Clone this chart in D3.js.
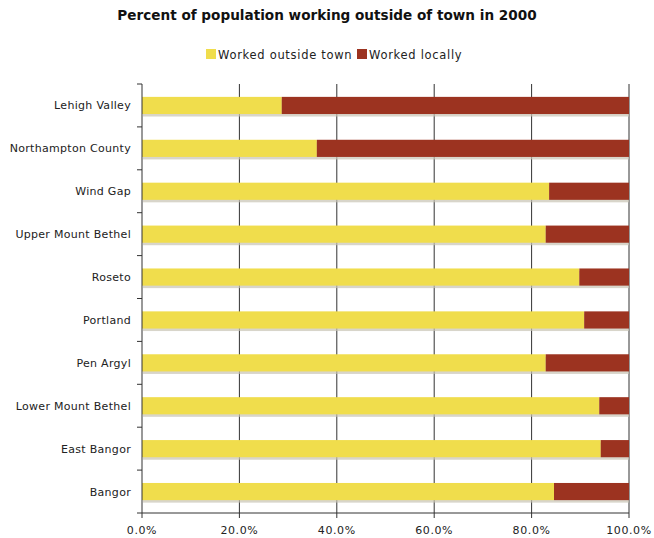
<!DOCTYPE html>
<html><head><meta charset="utf-8">
<script src="https://cdn.jsdelivr.net/npm/d3@7"></script>
<style>body{margin:0;background:#fff;} text{font-family:"DejaVu Sans",Verdana,sans-serif;}</style>
</head><body>
<svg id="c" width="654" height="538"></svg>
<script>
const categories = ["Lehigh Valley","Northampton County","Wind Gap","Upper Mount Bethel","Roseto","Portland","Pen Argyl","Lower Mount Bethel","East Bangor","Bangor"];
const workedOutside = [28.7, 35.9, 83.6, 82.9, 89.8, 90.8, 82.9, 93.9, 94.2, 84.6];
const workedLocally = workedOutside.map(v => 100 - v);
const seriesNames = ["Worked outside town","Worked locally"];
const tickValues = [0,20,40,60,80,100];
const colors = ["#f0dd4c","#9c3320"];

const svg = d3.select("#c");
const m = {l:142, r:629, t:84, b:513};
const x = d3.scaleLinear().domain([0,100]).range([m.l, m.r]);
const y = d3.scaleBand().domain(categories).range([m.t, m.b]).paddingInner(0.6).paddingOuter(0.3);
const yb = d3.scaleBand().domain(categories).range([m.t, m.b]);

svg.append("text").attr("x",327).attr("y",20).attr("text-anchor","middle")
  .style("font-size","13.6px").style("font-weight","bold").attr("fill","#111")
  .text("Percent of population working outside of town in 2000");

// legend
const lg = svg.append("g");
const lx = [206, 357];
seriesNames.forEach((n,i)=>{
  lg.append("rect").attr("x",lx[i]).attr("y",49).attr("width",10).attr("height",10).attr("fill",colors[i]);
  lg.append("text").attr("x",lx[i]+12).attr("y",58.5).style("font-size","11.5px").style("letter-spacing","0.7px").attr("fill","#222").text(n);
});

// gridlines
svg.append("g").selectAll("line").data(tickValues.slice(1)).join("line")
  .attr("x1",d=>x(d)).attr("x2",d=>x(d)).attr("y1",m.t).attr("y2",m.b+5)
  .attr("stroke","#333").attr("stroke-width",1);

// bars
const stackData = categories.map((c,i)=>({c, a:workedOutside[i], b:workedLocally[i]}));
const g = svg.append("g");
g.selectAll("rect.sh").data(stackData).join("rect").attr("class","sh")
  .attr("x",x(0)+1).attr("y",d=>y(d.c)+2.5).attr("width",x(100)-x(0)-1).attr("height",y.bandwidth())
  .attr("fill","#c8c3b4").attr("opacity",0.7);
g.selectAll("rect.a").data(stackData).join("rect").attr("class","a")
  .attr("x",x(0)).attr("y",d=>y(d.c)).attr("width",d=>x(d.a)-x(0)).attr("height",y.bandwidth()).attr("fill",colors[0]);
g.selectAll("rect.b").data(stackData).join("rect").attr("class","b")
  .attr("x",d=>x(d.a)).attr("y",d=>y(d.c)).attr("width",d=>x(d.a+d.b)-x(d.a)).attr("height",y.bandwidth()).attr("fill",colors[1]);

// y axis
svg.append("line").attr("x1",m.l).attr("x2",m.l).attr("y1",m.t).attr("y2",m.b).attr("stroke","#333");
svg.append("g").selectAll("line").data(d3.range(categories.length+1)).join("line")
  .attr("x1",m.l-5).attr("x2",m.l).attr("y1",i=>m.t+i*yb.step()).attr("y2",i=>m.t+i*yb.step()).attr("stroke","#333");
svg.append("g").selectAll("text").data(categories).join("text")
  .attr("x",131).attr("y",d=>yb(d)+yb.bandwidth()/2+4).attr("text-anchor","end")
  .style("font-size","11px").style("letter-spacing","0.3px").attr("fill","#222").text(d=>d);

// x axis
svg.append("line").attr("x1",m.l).attr("x2",m.r).attr("y1",m.b).attr("y2",m.b).attr("stroke","#333");
svg.append("line").attr("x1",m.l).attr("x2",m.l).attr("y1",m.b).attr("y2",m.b+5).attr("stroke","#333");
svg.append("g").selectAll("text").data(tickValues).join("text")
  .attr("x",d=>x(d)).attr("y",534).attr("text-anchor","middle")
  .style("font-size","11px").style("letter-spacing","0.6px").attr("fill","#222").text(d=>d.toFixed(1)+"%");
</script>
</body></html>
